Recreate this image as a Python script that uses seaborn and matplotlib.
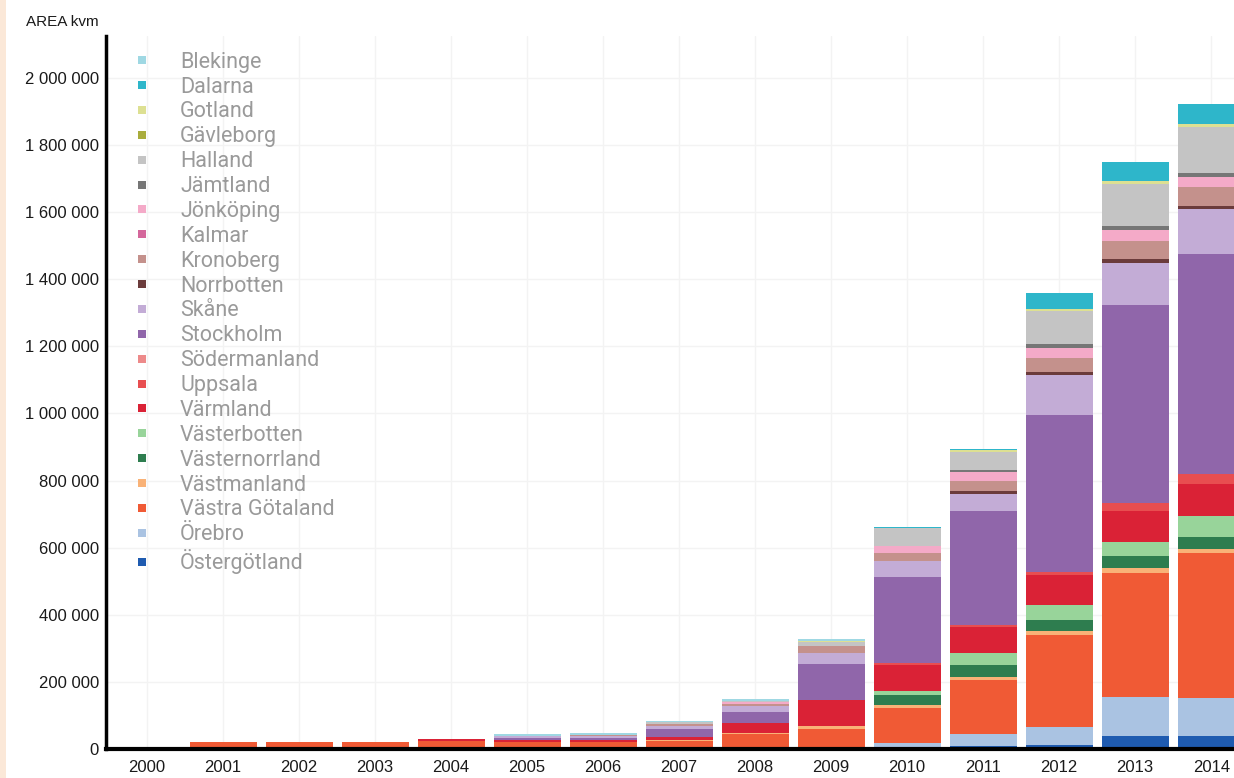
import numpy as np
import pandas as pd
import matplotlib
matplotlib.use("Agg")
import matplotlib.pyplot as plt
from matplotlib.lines import Line2D
from matplotlib.patches import Rectangle
import seaborn as sns

# Yearly area (kvm) per county
years = list(range(2000, 2015))

blekinge        = [0, 0, 0, 0, 0, 6000, 6000, 3000, 4000, 6000, 0, 0, 0, 0, 0]
dalarna         = [0, 0, 0, 0, 0, 0, 0, 0, 0, 0, 3000, 5000, 47000, 57000, 60000]
gotland         = [0, 0, 0, 0, 0, 0, 0, 0, 0, 3000, 0, 4000, 6000, 8000, 9000]
gavleborg       = [0, 0, 0, 0, 0, 0, 0, 0, 0, 0, 0, 0, 0, 0, 0]
halland         = [0, 0, 0, 0, 0, 0, 0, 6000, 5000, 12000, 54000, 54000, 99000, 127000, 136000]
jamtland        = [0, 0, 0, 0, 0, 0, 0, 0, 0, 0, 0, 7000, 12000, 12000, 13000]
jonkoping       = [0, 0, 0, 0, 0, 0, 0, 0, 6000, 0, 20000, 27000, 30000, 32000, 30000]
kalmar          = [0, 0, 0, 0, 0, 0, 0, 0, 0, 0, 0, 0, 0, 0, 0]
kronoberg       = [0, 0, 0, 0, 0, 0, 3000, 5000, 6000, 20000, 25000, 30000, 40000, 55000, 57000]
norrbotten      = [0, 0, 0, 0, 0, 0, 0, 0, 0, 0, 0, 8000, 10000, 10000, 10000]
skane           = [0, 0, 0, 0, 0, 5000, 6000, 9000, 18000, 33000, 45000, 50000, 119000, 126000, 132000]
stockholm       = [0, 0, 0, 0, 0, 6000, 8000, 24000, 33000, 108000, 258000, 340000, 467000, 590000, 656000]
sodermanland    = [0, 0, 0, 0, 0, 0, 0, 0, 0, 0, 0, 0, 0, 0, 0]
uppsala         = [0, 0, 0, 0, 0, 0, 0, 0, 0, 0, 5000, 5000, 10000, 25000, 30000]
varmland        = [0, 0, 0, 0, 6000, 6000, 6000, 9000, 27000, 75000, 77000, 78000, 88000, 90000, 97000]
vasterbotten    = [0, 0, 0, 0, 0, 0, 0, 0, 0, 0, 12000, 37000, 45000, 43000, 62000]
vasternorrland  = [0, 0, 0, 0, 0, 0, 0, 0, 0, 0, 32000, 35000, 32000, 37000, 35000]
vastmanland     = [0, 0, 0, 0, 0, 0, 0, 3000, 4000, 10000, 8000, 9000, 12000, 13000, 13000]
vastra_gotaland = [0, 20000, 20000, 20000, 24000, 22000, 20000, 24000, 45000, 60000, 104000, 162000, 276000, 370000, 430000]
orebro          = [0, 0, 0, 0, 0, 0, 0, 0, 0, 0, 15000, 35000, 53000, 115000, 113000]
ostergotland    = [0, 0, 0, 0, 0, 0, 0, 0, 0, 0, 3000, 9000, 12000, 40000, 40000]

regions = ["Blekinge", "Dalarna", "Gotland", "Gävleborg", "Halland", "Jämtland",
           "Jönköping", "Kalmar", "Kronoberg", "Norrbotten", "Skåne", "Stockholm",
           "Södermanland", "Uppsala", "Värmland", "Västerbotten", "Västernorrland",
           "Västmanland", "Västra Götaland", "Örebro", "Östergötland"]
values = [blekinge, dalarna, gotland, gavleborg, halland, jamtland, jonkoping, kalmar,
          kronoberg, norrbotten, skane, stockholm, sodermanland, uppsala, varmland,
          vasterbotten, vasternorrland, vastmanland, vastra_gotaland, orebro, ostergotland]
colors = ["#9fd8e3", "#2eb6ca", "#dde092", "#a9ac3c", "#c4c4c4", "#767676",
          "#f4aac8", "#d4679b", "#c4918c", "#6b3b3b", "#c3acd6", "#9066aa",
          "#ed8a8a", "#e84e50", "#da2236", "#98d49a", "#2e7d4f", "#f9b277",
          "#f05a35", "#aac3e2", "#1f5bb0"]

rows = []
for reg, vals in zip(regions, values):
    for yr, v in zip(years, vals):
        rows.append({"year": yr, "region": reg, "area": v})
df = pd.DataFrame(rows)

sns.set_theme(style="white")
plt.rcParams['font.family'] = ['Liberation Sans', 'DejaVu Sans']

W, H = 1234, 778
fig = plt.figure(figsize=(W / 100, H / 100), dpi=100)
fig.patches.append(Rectangle((0, 0), 6 / W, 1, transform=fig.transFigure,
                             facecolor="#fbe8d8", edgecolor="none", zorder=0))
ax = fig.add_axes([106 / W, 29 / H, 1 - 106 / W, (749 - 36) / H])

sns.histplot(data=df, x="year", weights="area", hue="region", hue_order=regions,
             palette=dict(zip(regions, colors)), multiple="stack", discrete=True,
             shrink=0.88, linewidth=0, alpha=1, legend=False, ax=ax)

ax.set_xlim(1999.46, 2014.30)
ax.set_ylim(0, 2125000)
ax.set_xticks(years)
ax.set_xticklabels([str(y) for y in years])
yt = np.arange(0, 2000001, 200000)
ax.set_yticks(yt)
ax.set_yticklabels([f"{v:,.0f}".replace(",", " ") for v in yt])
ax.tick_params(length=0, labelsize=12, labelcolor="#1a1a1a")
ax.tick_params(axis="x", pad=8)
ax.tick_params(axis="y", pad=5)
ax.set_xlabel("")
ax.set_ylabel("")
ax.grid(True, color="#f3f3f3", linewidth=1)
ax.set_axisbelow(True)

for s in ["top", "right"]:
    ax.spines[s].set_visible(False)
ax.spines["left"].set_color("black")
ax.spines["left"].set_linewidth(2.5)
ax.spines["bottom"].set_color("black")
ax.spines["bottom"].set_linewidth(3)

fig.text(26 / W, 1 - 22 / H, "AREA kvm", ha="left", va="center", fontsize=11, color="#1a1a1a")

handles = [Line2D([], [], marker="s", linestyle="none", markersize=6,
                  markerfacecolor=c, markeredgewidth=0) for c in colors]
ax.legend(handles, regions, loc="upper left", bbox_to_anchor=(0.0223, 0.978),
          frameon=False, borderpad=0, borderaxespad=0, handlelength=1.0,
          handletextpad=1.27, labelspacing=0.18, labelcolor="#9a9a9a",
          prop={"family": ["Roboto", "DejaVu Sans"], "size": 15.5})

fig.savefig("out.png", dpi=100)
